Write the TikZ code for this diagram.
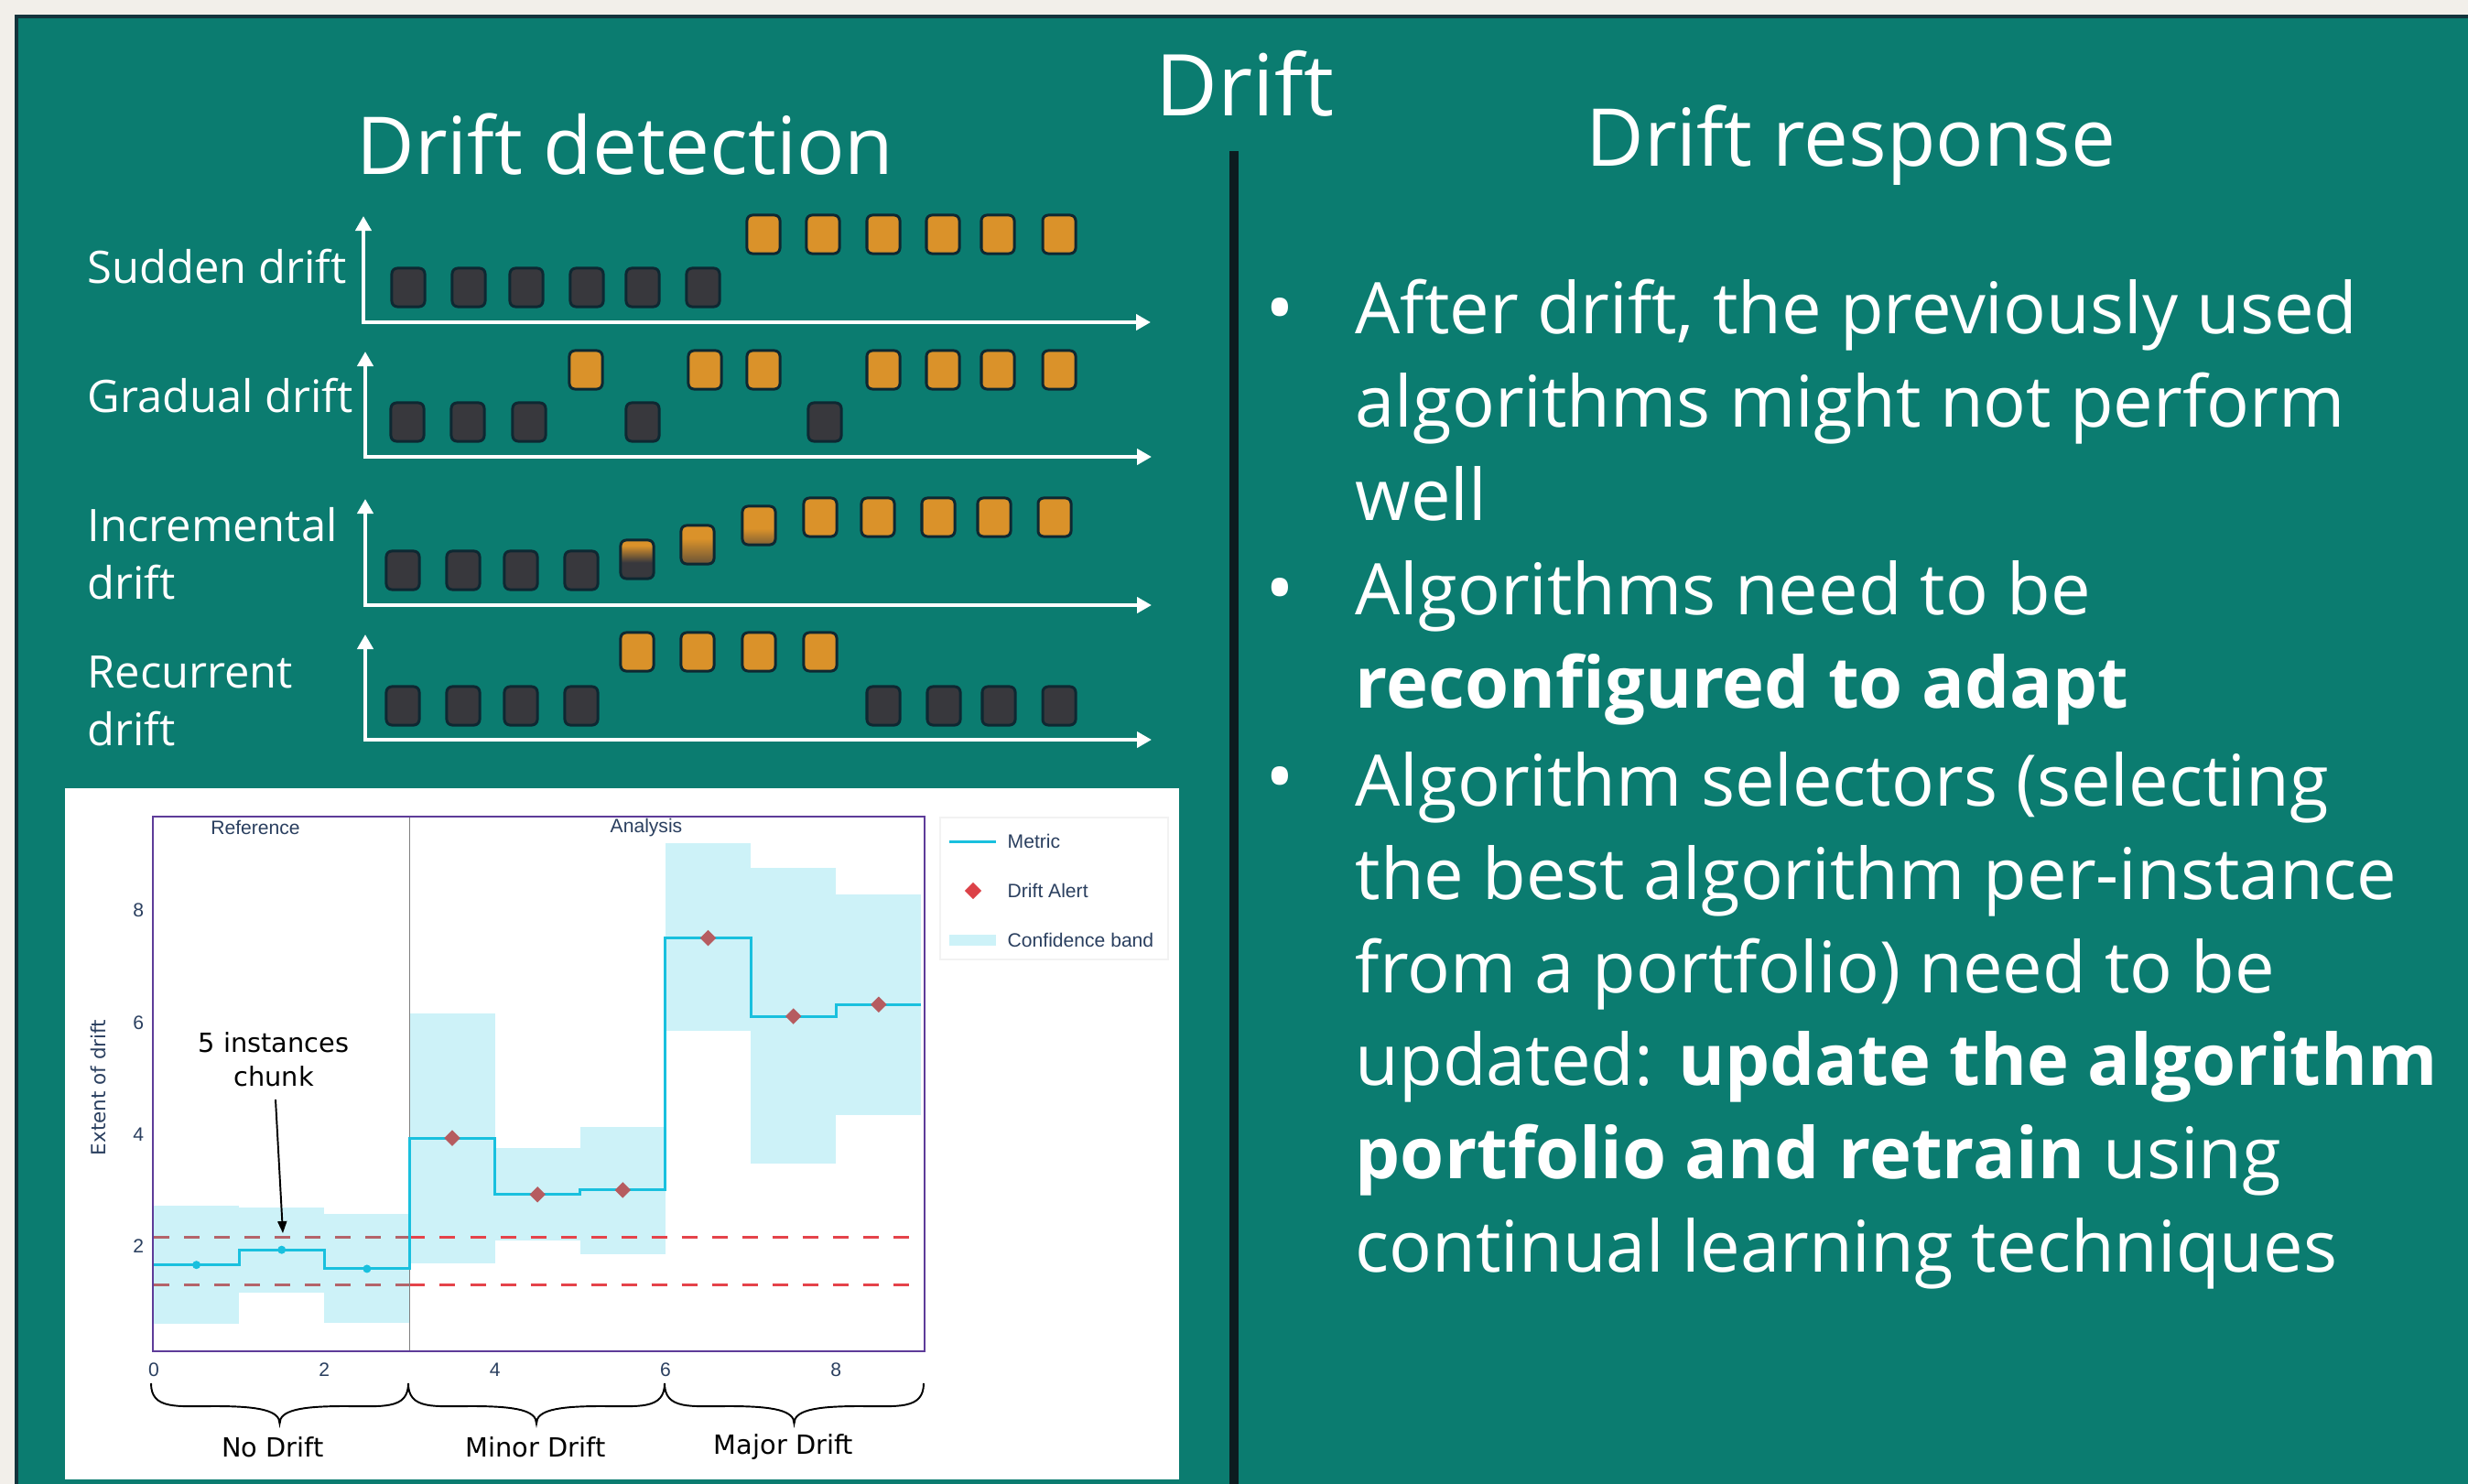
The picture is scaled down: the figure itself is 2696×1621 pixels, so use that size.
\documentclass[tikz,border=0pt]{standalone}
\usepackage{fontspec}
\setmainfont{Open Sans}
\newfontfamily\plotfont{Liberation Sans}
\newfontfamily\notefont{DejaVu Sans}
\usetikzlibrary{arrows.meta,positioning,shapes.geometric}
\definecolor{paper}{RGB}{242,239,234}
\definecolor{panelteal}{RGB}{11,124,112}
\definecolor{panelrim}{RGB}{20,52,60}
\definecolor{divider}{RGB}{12,28,32}
\definecolor{darkbox}{RGB}{56,56,61}
\definecolor{boxrim}{RGB}{14,40,50}
\definecolor{orangebox}{RGB}{218,146,42}
\colorlet{brownone}{darkbox!70!orangebox}
\colorlet{browntwo}{darkbox!55!orangebox}
\definecolor{metric}{RGB}{25,192,222}
\definecolor{band}{RGB}{205,242,248}
\definecolor{alert}{RGB}{182,92,96}
\definecolor{alertkey}{RGB}{220,66,72}
\definecolor{refdash}{RGB}{180,100,106}
\definecolor{andash}{RGB}{229,67,74}
\definecolor{plotink}{RGB}{42,63,95}
\definecolor{plotframe}{RGB}{94,60,153}
\pgfdeclareverticalshading{fadeone}{100bp}{color(0bp)=(darkbox); color(46bp)=(darkbox); color(68bp)=(orangebox); color(100bp)=(orangebox)}
\pgfdeclareverticalshading{fadetwo}{100bp}{color(0bp)=(brownone); color(25bp)=(brownone); color(58bp)=(orangebox); color(100bp)=(orangebox)}
\pgfdeclareverticalshading{fadethree}{100bp}{color(0bp)=(browntwo); color(25bp)=(browntwo); color(46bp)=(orangebox); color(100bp)=(orangebox)}

\begin{document}
\begin{tikzpicture}[x = 0.01cm, y = -0.01cm,
		headline/.style = {anchor = base, inner sep = 0pt, text = white, font = \fontsize{24.8}{29}\selectfont},
		rowlabel/.style = {anchor = base west, inner sep = 0pt, align = left, text = white, font = \fontsize{13.9}{17.9}\selectfont},
		darkcell/.style = {rectangle, rounded corners = 0.6mm, draw = boxrim, line width = 0.3mm, fill = darkbox, minimum width = 3.6mm, minimum height = 4.2mm, inner sep = 0pt},
		orangecell/.style = {darkcell, fill = orangebox},
		axisarrow/.style = {draw = white, line width = 1.4pt, {Triangle[length = 1.6mm, width = 1.7mm]}-{Triangle[length = 1.6mm, width = 1.7mm]}},
		bulletdot/.style = {anchor = base, inner sep = 0pt, text = white, font = \fontsize{24}{28.9}\selectfont},
		bullettext/.style = {anchor = base west, inner sep = 0pt, align = left, text = white, font = \fontsize{22.1}{28.9}\selectfont},
		plotlabel/.style = {inner sep = 0pt, text = plotink, font = \plotfont\fontsize{6}{7}\selectfont},
		notetext/.style = {inner sep = 0pt, align = center, font = \notefont\fontsize{8.2}{10.5}\selectfont},
		alertmark/.style = {diamond, fill = alert, minimum width = 1.8mm, minimum height = 1.8mm, inner sep = 0pt},
		dashline/.style = {line width = 0.95pt, dash pattern = on 1.7mm off 1.6mm}]
		\useasboundingbox (0,0) rectangle (2696,1621);
		\fill [paper] (0,0) rectangle (2696,1621);
		\filldraw [fill = panelteal, draw = panelrim, line width = 1.1pt] (18,18) rectangle (2730,1650);
		% Titles
		\node (drift) [headline, font = \fontsize{26.5}{32}\selectfont] at (1360,126) {Drift};
		\node (detect) [headline] at (683,190) {Drift detection};
		\node (respond) [headline] at (2022,181) {Drift response};
		\draw [divider, line width = 2.6pt] (1348,165) -- (1348,1640);
		% Sudden drift
		\node (lsudden) [rowlabel] at (95,309) {Sudden drift};
		\coordinate (sudtop) at (397,236);
		\coordinate (sudend) at (1257,352);
		\draw [axisarrow] (sudtop) |- (sudend);
		\foreach \x [count = \k] in {446,512,575,641,702,768}
			\node (sud\k) [darkcell] at (\x,314) {};
		\foreach \x [count = \k] in {834,899,965,1030,1090,1157}
			\node (sudo\k) [orangecell] at (\x,256) {};
		% Gradual drift
		\node (lgradual) [rowlabel] at (95,450) {Gradual drift};
		\coordinate (gradtop) at (399,384);
		\coordinate (gradend) at (1258,499);
		\draw [axisarrow] (gradtop) |- (gradend);
		\foreach \x [count = \k] in {445,511,578,702,901}
			\node (grad\k) [darkcell] at (\x,461) {};
		\foreach \x [count = \k] in {640,770,834,965,1030,1090,1157}
			\node (grado\k) [orangecell] at (\x,404) {};
		% Incremental drift
		\node (lincr) [rowlabel] at (95,654) {Incremental\\drift};
		\coordinate (incrtop) at (399,545);
		\coordinate (incrend) at (1258,661);
		\draw [axisarrow] (incrtop) |- (incrend);
		\foreach \x [count = \k] in {440,506,569,635}
			\node (incr\k) [darkcell] at (\x,623) {};
		\node (incrf1) [darkcell, shade, shading = fadeone] at (696,611) {};
		\node (incrf2) [darkcell, shade, shading = fadetwo] at (762,595) {};
		\node (incrf3) [darkcell, shade, shading = fadethree] at (829,574) {};
		\foreach \x [count = \k] in {896,959,1025,1086,1152}
			\node (incro\k) [orangecell] at (\x,565) {};
		% Recurrent drift
		\node (lrecur) [rowlabel] at (95,814) {Recurrent\\drift};
		\coordinate (rectop) at (399,693);
		\coordinate (recend) at (1258,808);
		\draw [axisarrow] (rectop) |- (recend);
		\foreach \x [count = \k] in {440,506,569,635,965,1031,1091,1157}
			\node (rec\k) [darkcell] at (\x,771) {};
		\foreach \x [count = \k] in {696,762,829,896}
			\node (reco\k) [orangecell] at (\x,712) {};
		% Drift response
		\node (dot1) [bulletdot] at (1398,366) {•};
		\node (resp1) [bullettext] at (1480,568) {After drift, the previously used\\algorithms might not perform\\well};
		\node (dot2) [bulletdot] at (1398,672) {•};
		\node (resp2) [bullettext] at (1480,773) {Algorithms need to be\\\textbf{reconfigured to adapt}};
		\node (dot3) [bulletdot] at (1398,878) {•};
		\node (resp3) [bullettext] at (1480,1389) {Algorithm selectors (selecting\\the best algorithm per-instance\\from a portfolio) need to be\\updated: \textbf{update the algorithm}\\\textbf{portfolio and retrain} using\\continual learning techniques};
		% Start of chart
		\fill [white] (71,861) rectangle (1288,1616);
		\begin{scope}[shift = {(168,1483)}, x = 0.931cm, y = 0.61cm]
			\foreach \i/\lo/\hi in {0/0.6/2.72, 1/1.16/2.69, 2/0.62/2.57, 3/1.69/6.16, 4/2.10/3.75, 5/1.85/4.13, 6/5.85/9.2, 7/3.48/8.77, 8/4.34/8.29}
				\fill [band] (\i,\lo) rectangle ({\i+1},\hi);
			\draw [dashline, refdash] (0,2.16) -- (3,2.16);
			\draw [dashline, refdash] (0,1.30) -- (3,1.30);
			\draw [dashline, andash] (3,2.16) -- (9,2.16);
			\draw [dashline, andash] (3,1.30) -- (9,1.30);
			\draw [gray, line width = 0.5pt] (3,0.115) -- (3,9.69);
			\draw [metric, line width = 0.85pt] (0,1.66) -| (1,1.93) -| (2,1.59) -| (3,3.93) -| (4,2.92) -| (5,3.0) -| (6,7.51) -| (7,6.11) -| (8,6.32) -- (9,6.32);
			\foreach \x/\v in {0.5/1.66, 1.5/1.93, 2.5/1.59}
				\fill [metric] (\x,\v) circle (0.45mm);
			\foreach \x/\v [count = \k] in {3.5/3.93, 4.5/2.92, 5.5/3.0, 6.5/7.51, 7.5/6.11, 8.5/6.32}
				\node (alert\k) [alertmark] at (\x,\v) {};
			\foreach \t in {0,2,4,6,8}
				\node (xtick\t) [plotlabel] at (\t,-0.21) {\t};
			\foreach \t in {2,4,6,8}
				\node (ytick\t) [plotlabel, anchor = east] at (-0.11,\t) {\t};
		\end{scope}
		\draw [plotframe, line width = 0.6pt] (167,892) rectangle (1010,1476);
		\node (reflabel) [plotlabel] at (279,904) {Reference};
		\node (analabel) [plotlabel] at (706,904) {Analysis};
		\node (ytitle) [plotlabel, rotate = 90, font = \notefont\fontsize{6.1}{7}\selectfont] at (108,1188) {Extent of drift};
		% Legend
		\draw [black!5, line width = 0.3pt] (1027,893) rectangle (1276,1048);
		\draw [metric, line width = 0.85pt] (1037,919) -- (1088,919);
		\node (keymetric) [plotlabel, anchor = west] at (1100,919) {Metric};
		\node (keydiamond) [alertmark, fill = alertkey, minimum width = 1.9mm, minimum height = 1.9mm] at (1063,973) {};
		\node (keyalert) [plotlabel, anchor = west] at (1100,973) {Drift Alert};
		\fill [band] (1037,1021) rectangle (1088,1033);
		\node (keyband) [plotlabel, anchor = west] at (1100,1027) {Confidence band};
		% Annotations
		\node (chunknote) [notetext, anchor = base] at (299,1186) {5 instances\\chunk};
		\coordinate (chunktip) at (309,1347);
		\draw [-{Triangle[length = 1.3mm, width = 1mm]}, line width = 0.55pt] (chunknote.south) ++(2,14) -- (chunktip);
		\foreach \a/\b in {165/446, 446/726, 726/1009} {
			\pgfmathsetmacro{\m}{(\a+\b)/2}
			\pgfmathsetmacro{\h}{(\b-\a)/2}
			\draw [line width = 0.55pt] (\a,1511) .. controls (\a,1540) and ({\a+0.2*\h},1536) .. ({\a+0.5*\h},1536) .. controls ({\m-0.15*\h},1536) and (\m,1541) .. (\m,1555) .. controls (\m,1541) and ({\m+0.15*\h},1536) .. ({\m+0.5*\h},1536) .. controls ({\b-0.2*\h},1536) and (\b,1540) .. (\b,1511);
		}
		\node (nodrift) [notetext, anchor = base] at (298,1591) {No Drift};
		\node (minordrift) [notetext, anchor = base] at (585,1591) {Minor Drift};
		\node (majordrift) [notetext, anchor = base] at (856,1588) {Major Drift};
	\end{tikzpicture}
\end{document}
